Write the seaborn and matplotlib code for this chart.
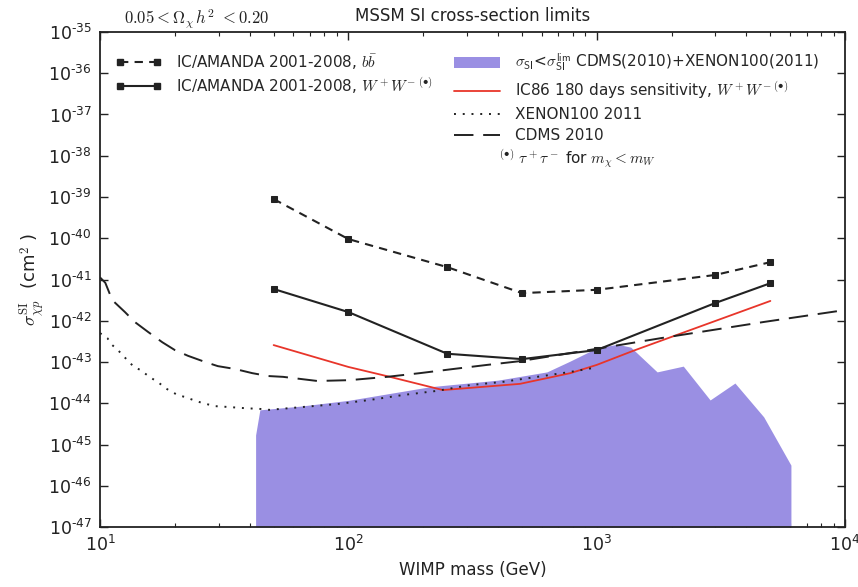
import numpy as np
import pandas as pd
import matplotlib
matplotlib.use("Agg")
import matplotlib.pyplot as plt
import seaborn as sns
from matplotlib.ticker import LogLocator, NullLocator, FuncFormatter
from matplotlib.patches import Patch
from matplotlib.lines import Line2D

# ---- data ----
ic_mass = [50, 100, 250, 500, 1000, 3000, 5000]
ic_bb_log = [-39.05, -40.02, -40.70, -41.33, -41.25, -40.89, -40.58]
ic_ww_log = [-41.23, -41.79, -42.80, -42.93, -42.71, -41.57, -41.09]

ic86_mass = [50, 100, 147, 240, 490, 783, 1000, 1400, 5000]
ic86_log = [-42.59, -43.12, -43.36, -43.68, -43.53, -43.27, -43.07, -42.73, -41.52]

xenon_mass = [10, 10.7, 11.2, 11.8, 12.4, 13, 13.7, 14.5, 15.5, 16.3, 17.3, 18.3, 19.5,
              20.6, 22, 23.7, 25.7, 29, 32.8, 38.4, 44.9, 48, 65.7, 90, 122, 166, 227,
              309, 420, 575, 783, 1000]
xenon_log = [-42.30, -42.42, -42.59, -42.71, -42.85, -42.98, -43.12, -43.19, -43.32,
             -43.41, -43.51, -43.63, -43.73, -43.80, -43.85, -43.92, -43.99, -44.07,
             -44.09, -44.12, -44.14, -44.16, -44.09, -44.02, -43.92, -43.80, -43.70,
             -43.56, -43.48, -43.36, -43.24, -43.13]

cdms_mass = [10, 10.5, 11.2, 12.6, 13.8, 15.6, 17.8, 20, 22.6, 26.5, 29.8, 35, 41, 47.5,
             54.6, 75, 101, 143, 194, 264, 362, 490, 1000, 1820, 4700, 10000]
cdms_log = [-40.95, -41.08, -41.50, -41.79, -42.03, -42.27, -42.52, -42.71, -42.85, -43.00,
            -43.10, -43.17, -43.27, -43.34, -43.36, -43.46, -43.44, -43.36, -43.27, -43.17,
            -43.07, -42.98, -42.68, -42.42, -42.03, -41.74]

shade_mass = [42.3, 44, 64, 100, 213, 400, 630, 780, 1000, 1210, 1370, 1750, 2230,
              2860, 3600, 4700, 6050]
shade_log = [-44.77, -44.16, -44.07, -43.93, -43.60, -43.44, -43.24, -42.98, -42.66,
             -42.57, -42.64, -43.24, -43.10, -43.92, -43.51, -44.33, -45.50]

# ---- style ----
sns.set_style("ticks")
plt.rcParams["font.family"] = ["DejaVu Sans"]
plt.rcParams["mathtext.fontset"] = "cm"
plt.rcParams["axes.unicode_minus"] = False

DARK = "#222222"
PURPLE = "#9a8fe3"
RED = "#e8352a"

fig = plt.figure(figsize=(8.58, 5.87), dpi=100)
ax = fig.add_axes([0.1166, 0.1022, 0.8684, 0.8433])

def to_df(m, lg):
    return pd.DataFrame({"m": m, "s": 10.0 ** np.array(lg)})

sh = to_df(shade_mass, shade_log)
ax.fill_between(sh["m"], 1e-47, sh["s"], color=PURPLE, linewidth=0, zorder=1)

sns.lineplot(data=to_df(ic_mass, ic_bb_log), x="m", y="s", ax=ax, color=DARK,
             linestyle=(0, (4, 3)), marker="s", markersize=5, markeredgecolor=DARK,
             linewidth=1.5, zorder=4)
sns.lineplot(data=to_df(ic_mass, ic_ww_log), x="m", y="s", ax=ax, color=DARK,
             linestyle="-", marker="s", markersize=5, markeredgecolor=DARK,
             linewidth=1.5, zorder=4)
sns.lineplot(data=to_df(ic86_mass, ic86_log), x="m", y="s", ax=ax, color=RED,
             linewidth=1.3, zorder=3)
sns.lineplot(data=to_df(xenon_mass, xenon_log), x="m", y="s", ax=ax, color=DARK,
             linestyle=(0, (1, 3.5)), linewidth=1.4, zorder=3)
sns.lineplot(data=to_df(cdms_mass, cdms_log), x="m", y="s", ax=ax, color=DARK,
             linestyle=(0, (10, 5)), linewidth=1.4, zorder=3)

ax.set_xscale("log")
ax.set_yscale("log")
ax.set_xlim(10, 1e4)
ax.set_ylim(1e-47, 1e-35)


def pow_fmt(v, pos):
    e = int(round(np.log10(v)))
    if e < 0:
        return "$\\mathdefault{10^{\u2010%d}}$" % (-e)
    return r"$\mathdefault{10^{%d}}$" % e


ax.yaxis.set_major_locator(LogLocator(base=10, numticks=20))
ax.yaxis.set_minor_locator(NullLocator())
ax.yaxis.set_major_formatter(FuncFormatter(pow_fmt))
ax.xaxis.set_major_locator(LogLocator(base=10, numticks=10))
ax.xaxis.set_minor_locator(LogLocator(base=10, subs=np.arange(2, 10), numticks=10))
ax.xaxis.set_major_formatter(FuncFormatter(pow_fmt))

ax.tick_params(which="both", direction="in", top=True, right=True, colors=DARK)
ax.tick_params(which="major", length=6, width=1, labelsize=12.5, pad=6)
ax.tick_params(which="minor", length=3, width=0.8)
for s in ax.spines.values():
    s.set_linewidth(1.3)
    s.set_color(DARK)

ax.set_xlabel("WIMP mass (GeV)", fontsize=12, color=DARK, labelpad=4)
ax.set_ylabel(r"$\sigma^{\rm SI}_{\chi p}$  (cm$^{2}$ )", fontsize=13, color=DARK)
ax.yaxis.set_label_coords(-0.071, 0.5)
ax.set_title("MSSM SI cross-section limits", fontsize=12, color=DARK, pad=8)
fig.text(0.145, 0.968, r"$0.05 <\Omega_\chi\, h^2\ <0.20$", fontsize=12, color=DARK,
         ha="left", va="center")

h_left = [
    Line2D([], [], color=DARK, linestyle=(0, (4, 3)), marker="s", markersize=5, linewidth=1.5),
    Line2D([], [], color=DARK, linestyle="-", marker="s", markersize=5, linewidth=1.5),
]
l_left = [r"IC/AMANDA 2001-2008, $b\bar{b}$",
          r"IC/AMANDA 2001-2008, $W^+W^{-\ (\bullet)}$"]
leg1 = ax.legend(h_left, l_left, loc="upper left", bbox_to_anchor=(0.0, 0.99), frameon=False,
                 fontsize=11, handlelength=3.0, numpoints=2, labelspacing=0.25,
                 handletextpad=1.0, borderaxespad=0.6)
ax.add_artist(leg1)

h_right = [
    Patch(facecolor=PURPLE, edgecolor="none"),
    Line2D([], [], color=RED, linewidth=1.3),
    Line2D([], [], color=DARK, linestyle=(0, (1, 3.5)), linewidth=1.4),
    Line2D([], [], color=DARK, linestyle=(0, (10, 5)), linewidth=1.4),
]
l_right = [r"$\sigma_{\mathsf{SI}}$<$\sigma_{\mathsf{SI}}^{\mathsf{lim}}$ CDMS(2010)+XENON100(2011)",
           r"IC86 180 days sensitivity, $W^+W^{-\ (\bullet)}$",
           "XENON100 2011",
           "CDMS 2010"]
ax.legend(h_right, l_right, loc="upper left", bbox_to_anchor=(0.455, 0.99), frameon=False,
          fontsize=11, handlelength=3.0, labelspacing=0.38, handletextpad=1.0,
          borderaxespad=0.6)
ax.text(0.535, 0.745, r"$^{(\bullet)}\ \tau^+\tau^-$ for $m_\chi < m_W$", transform=ax.transAxes,
        fontsize=11, color=DARK, ha="left", va="center")

fig.savefig("out.png", dpi=100)
